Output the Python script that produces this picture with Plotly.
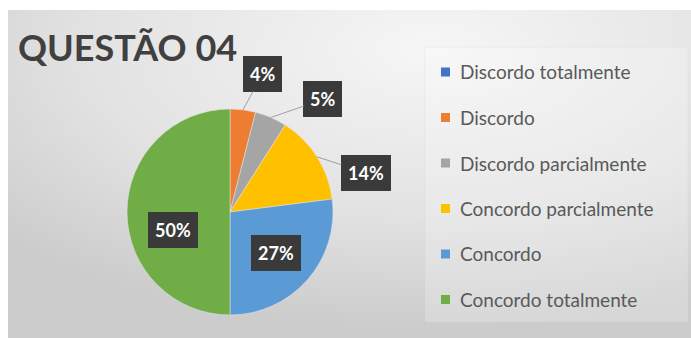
import base64
import math
import plotly.graph_objects as go

# ---------------- data ----------------
title_text = "QUESTÃO 04"
categories = [
    "Discordo totalmente",
    "Discordo",
    "Discordo parcialmente",
    "Concordo parcialmente",
    "Concordo",
    "Concordo totalmente",
]
percent_values = [0, 4, 5, 14, 27, 50]
slice_colors = ["#4472c4", "#ed7d31", "#a5a5a5", "#ffc000", "#5b9bd5", "#70ad47"]

# ---------------- layout constants ----------------
W, H = 691, 338
CX, CY, R = 230, 212, 103          # pie centre / radius in pixels


def X(px):
    return px / W


def Y(py):
    return 1 - py / H


# label placement style: ("out", ax, ay) leader-line labels, ("in", radial factor, yshift)
label_style = {
    "Discordo": ("out", 20, -36),
    "Discordo parcialmente": ("out", 52, -18),
    "Concordo parcialmente": ("out", 49, 16),
    "Concordo": ("in", 0.6, 0),
    "Concordo totalmente": ("in", 0.55, -18),
}

fig = go.Figure(
    go.Pie(
        labels=categories,
        values=percent_values,
        marker=dict(colors=slice_colors, line=dict(color="#e6e6e6", width=0.5)),
        sort=False,
        direction="clockwise",
        rotation=0,
        textinfo="none",
        showlegend=False,
        domain=dict(x=[X(CX - R), X(CX + R)], y=[Y(CY + R), Y(CY - R)]),
        hovertemplate="%{label}: %{value}%<extra></extra>",
    )
)

# background gradient (SVG data URI)
svg = (
    '<svg xmlns="http://www.w3.org/2000/svg" width="683" height="328">'
    '<defs><radialGradient id="g" cx="0.62" cy="0.12" r="0.85">'
    '<stop offset="0" stop-color="#f6f6f6"/><stop offset="0.6" stop-color="#e2e2e2"/>'
    '<stop offset="1" stop-color="#cccccc"/></radialGradient></defs>'
    '<rect width="683" height="328" fill="url(#g)"/></svg>'
)
src = "data:image/svg+xml;base64," + base64.b64encode(svg.encode()).decode()
fig.add_layout_image(
    source=src, xref="paper", yref="paper", x=X(8), y=Y(10),
    sizex=X(W) - X(8), sizey=Y(10) - Y(H), sizing="stretch",
    xanchor="left", yanchor="top", layer="below",
)

shapes = [
    # legend panel
    dict(type="rect", xref="paper", yref="paper", x0=X(425), x1=X(688), y0=Y(322), y1=Y(47),
         fillcolor="rgba(255,255,255,0.22)", line=dict(color="rgba(210,210,210,0.25)", width=1),
         layer="below"),
]

annotations = [
    dict(text=f"<b>{title_text}</b>", x=X(16), y=Y(47), xref="paper", yref="paper",
         xanchor="left", yanchor="middle", showarrow=False,
         font=dict(family="Lato", size=36, color="#404040")),
]

# data labels computed from slice angles
total = sum(percent_values)
cum = 0
for cat, v in zip(categories, percent_values):
    start = cum
    cum += v
    if v == 0:
        continue
    mid = (start + v / 2) / total * 2 * math.pi
    dx, dy = math.sin(mid), -math.cos(mid)
    mode, a, b = label_style[cat]
    common = dict(text=f"<b>{v}%</b>", xref="paper", yref="paper",
                  font=dict(family="Lato", size=18, color="white"),
                  bgcolor="#3a3a3a", bordercolor="#3a3a3a", borderwidth=1, borderpad=6)
    if mode == "out":
        px, py = CX + R * dx, CY + R * dy
        annotations.append(dict(x=X(px), y=Y(py), showarrow=True, arrowhead=0,
                                arrowcolor="#a0a0a0", arrowwidth=1, ax=a, ay=b,
                                standoff=0, **common))
    else:
        px, py = CX + R * a * dx, CY + R * a * dy
        annotations.append(dict(x=X(px), y=Y(py), showarrow=False, yshift=b,
                                xanchor="center", yanchor="middle", **common))

# manual legend
row0, row_gap = 72, 45.5
for i, (cat, col) in enumerate(zip(categories, slice_colors)):
    yc = row0 + i * row_gap
    shapes.append(dict(type="rect", xref="paper", yref="paper",
                       x0=X(441), x1=X(450), y0=Y(yc + 4.5), y1=Y(yc - 4.5),
                       fillcolor=col, line=dict(width=0)))
    annotations.append(dict(text=cat, x=X(458), y=Y(yc), xref="paper", yref="paper",
                            xanchor="left", yanchor="middle", showarrow=False,
                            font=dict(family="Lato", size=19, color="#595959")))

fig.update_layout(
    width=W, height=H,
    margin=dict(l=0, r=0, t=0, b=0),
    paper_bgcolor="white",
    plot_bgcolor="white",
    shapes=shapes,
    annotations=annotations,
)

fig.write_html(
    "out.html",
    config={"displayModeBar": False},
    post_script="document.body.style.margin='0';document.body.style.overflow='hidden';",
)
